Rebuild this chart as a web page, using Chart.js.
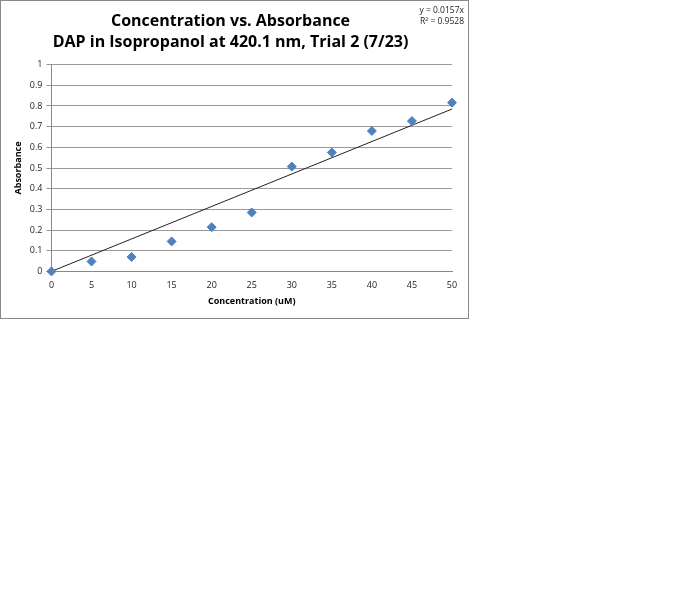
<!DOCTYPE html>
<html>
<head>
<meta charset="utf-8">
<script src="https://cdn.jsdelivr.net/npm/chart.js@4.4.0/dist/chart.umd.min.js"></script>
<style>
    html, body { margin: 0; padding: 0; background: #fff; }
    #caja {
        position: absolute; left: 0; top: 0;
        width: 467px; height: 317px;
        border: 1px solid #888;
        background: #fff;
    }
    #ecuacion {
        position: absolute; right: 4px; top: 3px;
        font-family: "Open Sans", sans-serif; font-size: 8.5px;
        line-height: 11px; text-align: right; color: #222;
    }
</style>
</head>
<body>
<div id="caja">
    <canvas id="chart-scatter" width="467" height="317"></canvas>
    <div id="ecuacion">y = 0.0157x<br>R² = 0.9528</div>
</div>
<script>
// Datos
const concentraciones = [0, 5, 10, 15, 20, 25, 30, 35, 40, 45, 50];
const absorbancias = [0, 0.048, 0.07, 0.145, 0.214, 0.285, 0.507, 0.575, 0.679, 0.727, 0.816];
// Línea de tendencia y = 0.0157x (extremos)
const tendenciaX = [0, 50];
const tendenciaY = [0, 0.785];
const titulo = ['Concentration vs. Absorbance', 'DAP in Isopropanol at 420.1 nm, Trial 2 (7/23)'];

const ctx = document.getElementById('chart-scatter').getContext('2d');
const fuenteTicks = { size: 9, family: "Open Sans" };

new Chart(ctx, {
    type: 'scatter',
    data: {
        datasets: [{
            label: 'Absorbance',
            data: concentraciones.map((x, i) => ({ x: x, y: absorbancias[i] })),
            pointStyle: 'rectRot',
            pointRadius: 4.5,
            pointBackgroundColor: '#4F81BD',
            pointBorderColor: '#4F81BD',
            clip: false,
            order: 1
        }, {
            label: 'Tendencia',
            type: 'line',
            data: tendenciaX.map((x, i) => ({ x: x, y: tendenciaY[i] })),
            borderColor: '#222',
            borderWidth: 1,
            pointRadius: 0,
            fill: false,
            order: 2
        }]
    },
    options: {
        responsive: false,
        animation: false,
        layout: { padding: { left: 8, right: 16, top: 4, bottom: 7 } },
        plugins: {
            legend: { display: false },
            tooltip: { enabled: false },
            title: {
                display: true,
                text: titulo,
                color: '#000',
                font: { size: 16, weight: 'bold', family: "Open Sans", lineHeight: 1.3 },
                padding: { top: 6, bottom: 12 }
            }
        },
        scales: {
            x: {
                type: 'linear',
                min: 0, max: 50,
                ticks: { stepSize: 5, color: '#222', font: fuenteTicks, padding: 5 },
                grid: { display: false, drawOnChartArea: false, drawTicks: true, tickLength: 4, color: '#888' },
                border: { display: true, color: '#888' },
                title: {
                    display: true, text: 'Concentration (uM)', color: '#000',
                    font: { size: 9, weight: 'bold', family: "Open Sans" }, padding: { top: 0 }
                }
            },
            y: {
                min: 0, max: 1,
                ticks: {
                    stepSize: 0.1, color: '#222', font: fuenteTicks, padding: 4,
                    callback: valor => String(Number(valor.toFixed(1)))
                },
                grid: { color: '#999', drawTicks: true, tickLength: 5 },
                border: { display: true, color: '#888' },
                title: {
                    display: true, text: 'Absorbance', color: '#000',
                    font: { size: 9, weight: 'bold', family: "Open Sans" }, padding: { bottom: 2 }
                }
            }
        }
    }
});
</script>
</body>
</html>
